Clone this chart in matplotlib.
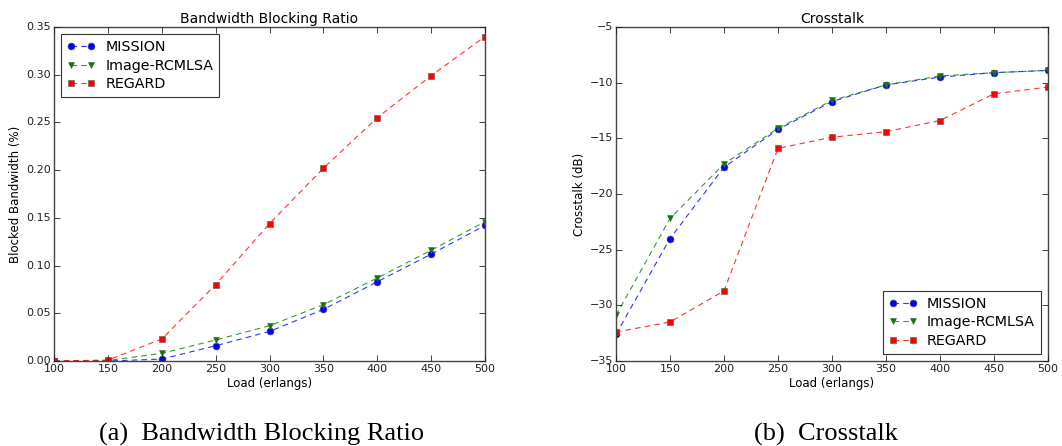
import matplotlib
matplotlib.use("Agg")
import matplotlib.pyplot as plt
from matplotlib.colors import to_rgba

plt.style.use('classic')

loads = [100, 150, 200, 250, 300, 350, 400, 450, 500]

bbr_mission = [0.0, 0.0, 0.002, 0.016, 0.031, 0.054, 0.083, 0.112, 0.142]
bbr_image = [0.0, 0.0005, 0.008, 0.022, 0.037, 0.059, 0.087, 0.116, 0.146]
bbr_regard = [0.0, 0.001, 0.023, 0.080, 0.144, 0.202, 0.255, 0.299, 0.340]

xt_mission = [-32.6, -24.0, -17.6, -14.2, -11.7, -10.2, -9.5, -9.1, -8.9]
xt_image = [-30.9, -22.2, -17.3, -14.1, -11.6, -10.2, -9.4, -9.1, -8.9]
xt_regard = [-32.4, -31.5, -28.7, -15.9, -14.9, -14.4, -13.4, -11.0, -10.4]

series_names = ["MISSION", "Image-RCMLSA", "REGARD"]
colors = ["blue", "green", "red"]
markers = ["o", "v", "s"]

fig = plt.figure(figsize=(10.62, 4.46), dpi=100, facecolor='white')
W, H = 1062, 446
ax1 = fig.add_axes([54 / W, 1 - 361 / H, (485 - 54) / W, (361 - 27) / H])
ax2 = fig.add_axes([616 / W, 1 - 361 / H, (1048 - 616) / W, (361 - 27) / H])

def draw(ax, ys, title, ylabel, ylim, yticks, yfmt, legloc):
    for y, name, c, m in zip(ys, series_names, colors, markers):
        ax.plot(loads, y, linestyle='--', color=to_rgba(c, 0.8), marker=m,
                markersize=5, markerfacecolor=c,
                markeredgecolor='#555555', markeredgewidth=0.4, linewidth=0.8,
                label=name, dashes=(4, 3))
    ax.set_xlim(100, 500)
    ax.set_ylim(*ylim)
    ax.set_xticks(loads)
    ax.set_yticks(yticks)
    ax.set_yticklabels([yfmt(v) for v in yticks])
    ax.tick_params(labelsize=8, direction='in', length=4, width=0.6,
                   top=True, right=True, colors='#222222', pad=2)
    for s in ax.spines.values():
        s.set_color('#444444')
        s.set_linewidth(1.0)
    ax.set_title(title, fontsize=10, pad=3)
    ax.set_xlabel("Load (erlangs)", fontsize=8.5, labelpad=2)
    ax.set_ylabel(ylabel, fontsize=8.5, labelpad=3)
    leg = ax.legend(loc=legloc, numpoints=2, fontsize=10.3, frameon=True,
                    fancybox=False, borderpad=0.4, labelspacing=0.33,
                    handlelength=2.0, handletextpad=0.7, borderaxespad=0.5)
    leg.get_frame().set_edgecolor('#333333')
    leg.get_frame().set_linewidth(0.8)

draw(ax1, [bbr_mission, bbr_image, bbr_regard], "Bandwidth Blocking Ratio",
     "Blocked Bandwidth (%)", (0, 0.35),
     [0.0, 0.05, 0.10, 0.15, 0.20, 0.25, 0.30, 0.35],
     lambda v: "%.2f" % v, 'upper left')
draw(ax2, [xt_mission, xt_image, xt_regard], "Crosstalk",
     "Crosstalk (dB)", (-35, -5),
     [-35, -30, -25, -20, -15, -10, -5],
     lambda v: "\u2212%d" % abs(v), 'lower right')

fig.text(262 / W, 1 - 434 / H, "(a)  Bandwidth Blocking Ratio", ha='center',
         va='center', fontsize=19, family='Liberation Serif')
fig.text(826 / W, 1 - 434 / H, "(b)  Crosstalk", ha='center',
         va='center', fontsize=19, family='Liberation Serif')

fig.savefig("out.png", dpi=100, facecolor='white')
